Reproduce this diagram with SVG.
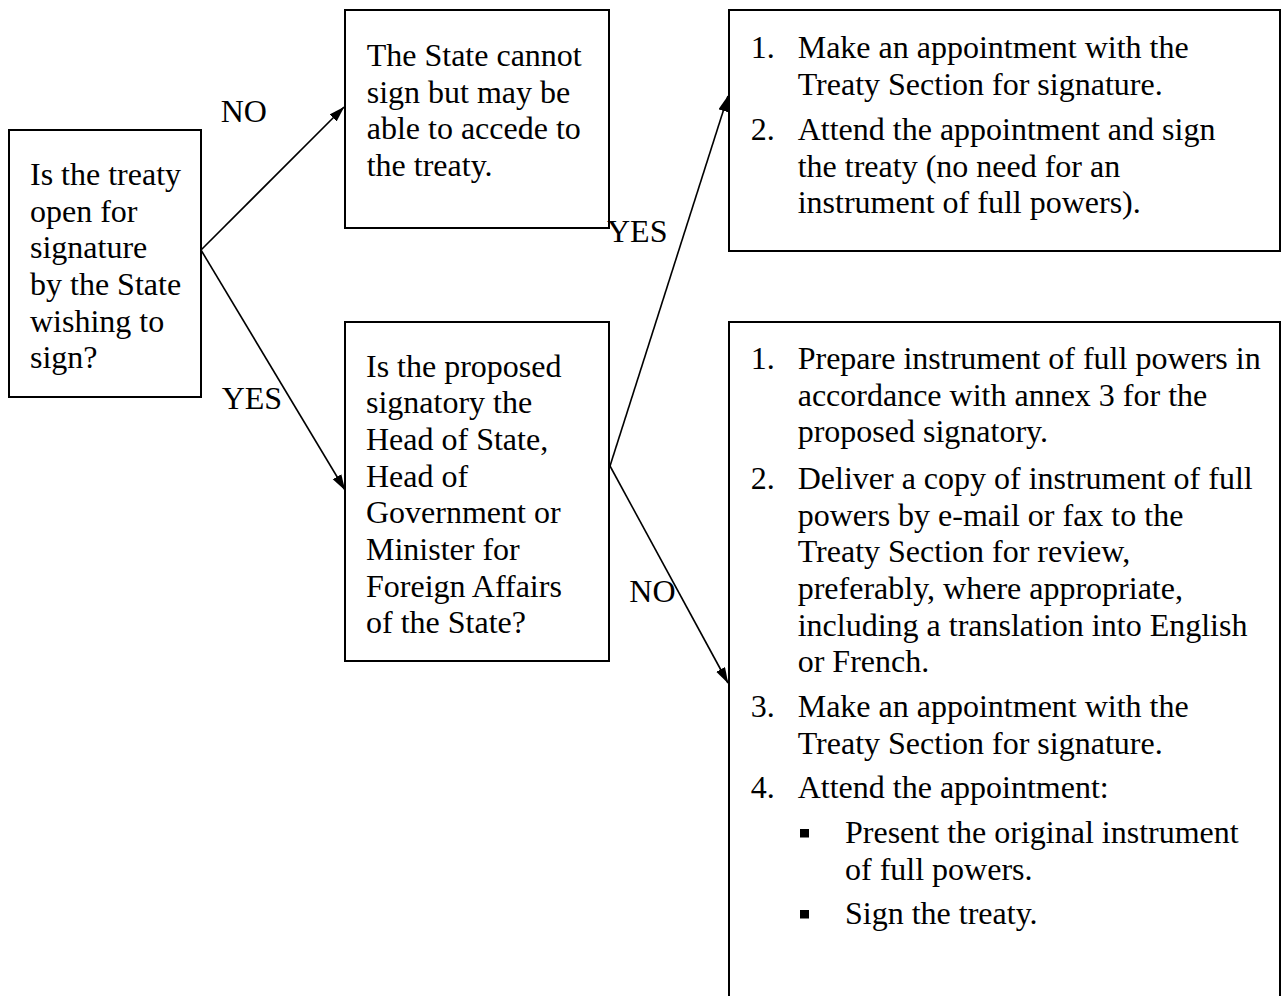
<svg xmlns="http://www.w3.org/2000/svg" width="1282" height="996" viewBox="0 0 1282 996">
<style>
.box{fill:#fff;stroke:#000;stroke-width:2}
.conn{stroke:#000;stroke-width:1.6;fill:none;marker-end:url(#arr)}
text{font-family:"Liberation Serif","Times New Roman",serif;font-size:32px;fill:#000}
.bul{fill:#000}
</style>
<defs>
<marker id="arr" markerUnits="userSpaceOnUse" markerWidth="17" markerHeight="11" refX="15.5" refY="5" orient="auto">
<path d="M0,0 L16,5 L0,10 z" fill="#000"/>
</marker>
</defs>
<rect width="1282" height="996" fill="#fff"/>
<g id="q1">
<rect class="box" x="9" y="130" width="192" height="267"/>
<text x="30" y="185">Is the treaty</text>
<text x="30" y="221.7">open for</text>
<text x="30" y="258.3">signature</text>
<text x="30" y="295">by the State</text>
<text x="30" y="331.7">wishing to</text>
<text x="30" y="368.3">sign?</text>
</g>
<g id="cannot">
<rect class="box" x="345" y="10" width="264" height="218"/>
<text x="366.7" y="66">The State cannot</text>
<text x="366.7" y="102.7">sign but may be</text>
<text x="366.7" y="139.3">able to accede to</text>
<text x="366.7" y="176">the treaty.</text>
</g>
<g id="q2">
<rect class="box" x="345" y="322" width="264" height="339"/>
<text x="366" y="376.7">Is the proposed</text>
<text x="366" y="413.3">signatory the</text>
<text x="366" y="450">Head of State,</text>
<text x="366" y="486.7">Head of</text>
<text x="366" y="523.3">Government or</text>
<text x="366" y="560">Minister for</text>
<text x="366" y="596.7">Foreign Affairs</text>
<text x="366" y="633.3">of the State?</text>
</g>
<g id="sign-direct">
<rect class="box" x="729" y="10" width="551" height="241"/>
<text x="750.7" y="58.3">1.</text>
<text x="797.7" y="58.3">Make an appointment with the</text>
<text x="797.7" y="95">Treaty Section for signature.</text>
<text x="750.7" y="140">2.</text>
<text x="797.7" y="140">Attend the appointment and sign</text>
<text x="797.7" y="176.7">the treaty (no need for an</text>
<text x="797.7" y="213.3">instrument of full powers).</text>
</g>
<g id="full-powers">
<rect class="box" x="729" y="322" width="551" height="720"/>
<text x="750.7" y="369">1.</text>
<text x="797.7" y="369">Prepare instrument of full powers in</text>
<text x="797.7" y="405.7">accordance with annex 3 for the</text>
<text x="797.7" y="442.3">proposed signatory.</text>
<text x="750.7" y="489">2.</text>
<text x="797.7" y="489">Deliver a copy of instrument of full</text>
<text x="797.7" y="525.7">powers by e-mail or fax to the</text>
<text x="797.7" y="562.3">Treaty Section for review,</text>
<text x="797.7" y="599">preferably, where appropriate,</text>
<text x="797.7" y="635.7">including a translation into English</text>
<text x="797.7" y="672.3">or French.</text>
<text x="750.7" y="717">3.</text>
<text x="797.7" y="717">Make an appointment with the</text>
<text x="797.7" y="753.7">Treaty Section for signature.</text>
<text x="750.7" y="798.3">4.</text>
<text x="797.7" y="798.3">Attend the appointment:</text>
<rect class="bul" x="800" y="829" width="9" height="8.5"/>
<text x="845" y="843">Present the original instrument</text>
<text x="845" y="879.7">of full powers.</text>
<rect class="bul" x="800" y="910" width="9" height="8.5"/>
<text x="845" y="924">Sign the treaty.</text>
</g>
<g id="connectors">
<line class="conn" x1="201" y1="250" x2="344" y2="107"/>
<line class="conn" x1="201" y1="250" x2="345" y2="490"/>
<line class="conn" x1="610" y1="466" x2="728" y2="96"/>
<line class="conn" x1="610" y1="466" x2="728" y2="683"/>
</g>
<g id="labels">
<text x="220.7" y="121.7">NO</text>
<text x="221.7" y="409.3">YES</text>
<text x="607" y="241.7">YES</text>
<text x="629.3" y="601.7">NO</text>
</g>
</svg>
